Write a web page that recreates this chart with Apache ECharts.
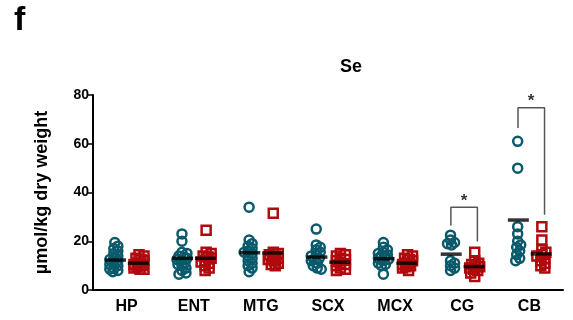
<!DOCTYPE html>
<html><head><meta charset="utf-8">
<script src="https://cdn.jsdelivr.net/npm/echarts@6/dist/echarts.min.js"></script>
<style>html,body{margin:0;padding:0;background:#fff}#c{width:573px;height:320px}</style>
</head><body><div id="c"></div>
<script>
const categories = ['HP','ENT','MTG','SCX','MCX','CG','CB'];
const yTicks = [0,20,40,60,80];
// teal circles (group A)
const tealValues = [
  [19.5,18,17,16,15,14,13,12.5,12,11,10.5,10,9,8.5,8,7.5],
  [23,20,15.5,15,14,13.5,13,12.5,12,11,10.5,10,9,8,7,6.5],
  [34,20.5,19,18,17,16,15.5,15,14,13,12,11,10,9,7.5],
  [25,18.5,17.5,16.5,15.5,14.5,14,13,12.5,12,11,10,9,8.5],
  [19.5,17.5,16.5,15.5,15,14.5,14,13.5,13,12.5,12,11,10.5,10,6.5],
  [22.5,20.5,19.5,19,18.5,12,11,10,9,8],
  [61,50,26,23,20,18.5,17.5,16,14.5,13,12]
];
// red squares (group B)
const redValues = [
  [14.5,14,13,12.5,12,11,10.5,10,9.5,9,8.5,8.5],
  [24.5,15.5,15,14,13.5,13,12,11.5,11,10,9,8],
  [31.5,15.5,15,14.5,14,13.5,13,12.5,12,11,10.5,10],
  [15,14.5,14,13,12.5,12,11,10.5,10,9,8.5,8],
  [14.5,14,13,12.5,12,11,10.5,10,9.5,9,8],
  [15.5,12,11,10.5,10,9.5,9,8.5,8,7,5.5],
  [26,20.5,16.5,15.5,14.5,14,13,12,11,10,9]
];
const tealMeans = [12.3,13,15.3,13.5,12.8,14.7,28.7];
const redMeans = [11,13,15.2,11.4,11,9.6,14.8];
// significance brackets: group index, left foot, right foot, top (values)
const bracketGroups = [5,6];
const bracketLeft = [26.5,66.5];
const bracketRight = [19.9,30.9];
const bracketTop = [33.9,74.8];

const TEAL = '#0a5a6c', RED = '#b00a0e';
const plotW = 470, plotH = 195;
const pxX = plotW/7, pxY = plotH/80;
const offA = -0.175, offB = 0.185;

function swarm(vals, center){
  const placed = [];
  const D = 4.2, MAXO = 5;
  const sorted = vals.slice().sort((a,b)=>b-a);
  const out = [];
  for (const v of sorted){
    const py = v*pxY;
    let chosen = null, best = -1, bestO = 0;
    for (let k=0;k<=2*MAXO;k++){
      const o = (k===0)?0:((k%2===1)?Math.ceil(k/2):-Math.ceil(k/2));
      let md = 1e9;
      for (const p of placed){
        const dx = p[0]-o, dy = p[1]-py;
        md = Math.min(md, Math.sqrt(dx*dx+dy*dy));
      }
      if (md >= D){ chosen = o; break; }
      if (md > best){ best = md; bestO = o; }
    }
    if (chosen === null) chosen = bestO;
    placed.push([chosen, py]);
    out.push([center + chosen/pxX, v]);
  }
  return out;
}
const tealPts = [], redPts = [], tealMeanPts = [], redMeanPts = [];
categories.forEach((c,i)=>{
  tealPts.push(...swarm(tealValues[i], i+0.5+offA));
  redPts.push(...swarm(redValues[i], i+0.5+offB));
  tealMeanPts.push([i+0.5+offA+0.01, tealMeans[i]]);
  redMeanPts.push([i+0.5+offB-0.01, redMeans[i]]);
});
const bracketSeries = bracketGroups.map((g,j)=>({
  type:'line', xAxisIndex:1, yAxisIndex:0, symbol:'none', silent:true,
  lineStyle:{color:'#555', width:1.5},
  data:[[g+0.5+offA+0.005, bracketLeft[j]],[g+0.5+offA+0.005, bracketTop[j]],[g+0.5+0.225, bracketTop[j]],[g+0.5+0.225, bracketRight[j]]],
  z:3
}));
const starPts = bracketGroups.map((g,j)=>[g+0.5+0.025, bracketTop[j]]);

const font = 'Arial, "Liberation Sans", Helvetica, sans-serif';
const chart = echarts.init(document.getElementById('c'), null, {renderer:'canvas'});
chart.setOption({
  animation:false,
  backgroundColor:'#fff',
  graphic:[
    {type:'text', left:14, top:4, style:{text:'f', font:'bold 34px '+font, fill:'#000'}},
    {type:'text', left:340, top:58, style:{text:'Se', font:'bold 18px '+font, fill:'#000'}}
  ],
  grid:{left:93, right:10, top:95, bottom:30, containLabel:false},
  xAxis:[
    {type:'category', data:categories, boundaryGap:true,
     axisLine:{lineStyle:{color:'#000', width:2}},
     axisTick:{alignWithLabel:true, length:5, lineStyle:{color:'#000', width:1.5}},
     axisLabel:{color:'#000', fontWeight:'bold', fontSize:16, fontFamily:font, margin:9},
     splitLine:{show:false}},
    {type:'value', min:0, max:7, show:false}
  ],
  yAxis:{type:'value', min:0, max:80, interval:20,
    name:'µmol/kg dry weight', nameLocation:'middle', nameGap:42,
    nameTextStyle:{color:'#000', fontWeight:'bold', fontSize:18, fontFamily:font},
    axisLine:{show:true, lineStyle:{color:'#000', width:2}},
    axisTick:{show:true, length:5, lineStyle:{color:'#000', width:1.5}},
    axisLabel:{color:'#000', fontWeight:'bold', fontSize:14, fontFamily:font, margin:4,
      formatter:v=>yTicks.includes(v)?String(v):''},
    splitLine:{show:false}},
  series:[
    {type:'scatter', xAxisIndex:1, data:tealPts, symbol:'circle', symbolSize:9,
     itemStyle:{color:'rgba(255,255,255,0)', borderColor:TEAL, borderWidth:2.5, opacity:1}, z:4},
    {type:'scatter', xAxisIndex:1, data:redPts, symbol:'rect', symbolSize:9,
     itemStyle:{color:'rgba(255,255,255,0)', borderColor:RED, borderWidth:2.5, opacity:1}, z:4},
    {type:'scatter', xAxisIndex:1, data:tealMeanPts, symbol:'rect', symbolSize:[21,3.5],
     itemStyle:{color:'#000'}, z:6},
    {type:'scatter', xAxisIndex:1, data:redMeanPts, symbol:'rect', symbolSize:[21,3.5],
     itemStyle:{color:'#000'}, z:6},
    ...bracketSeries,
    {type:'scatter', xAxisIndex:1, data:starPts, symbolSize:0,
     label:{show:true, position:'top', distance:-2, formatter:'*', color:'#000', fontWeight:'bold', fontSize:17, fontFamily:font}, z:6}
  ]
});
</script></body></html>
